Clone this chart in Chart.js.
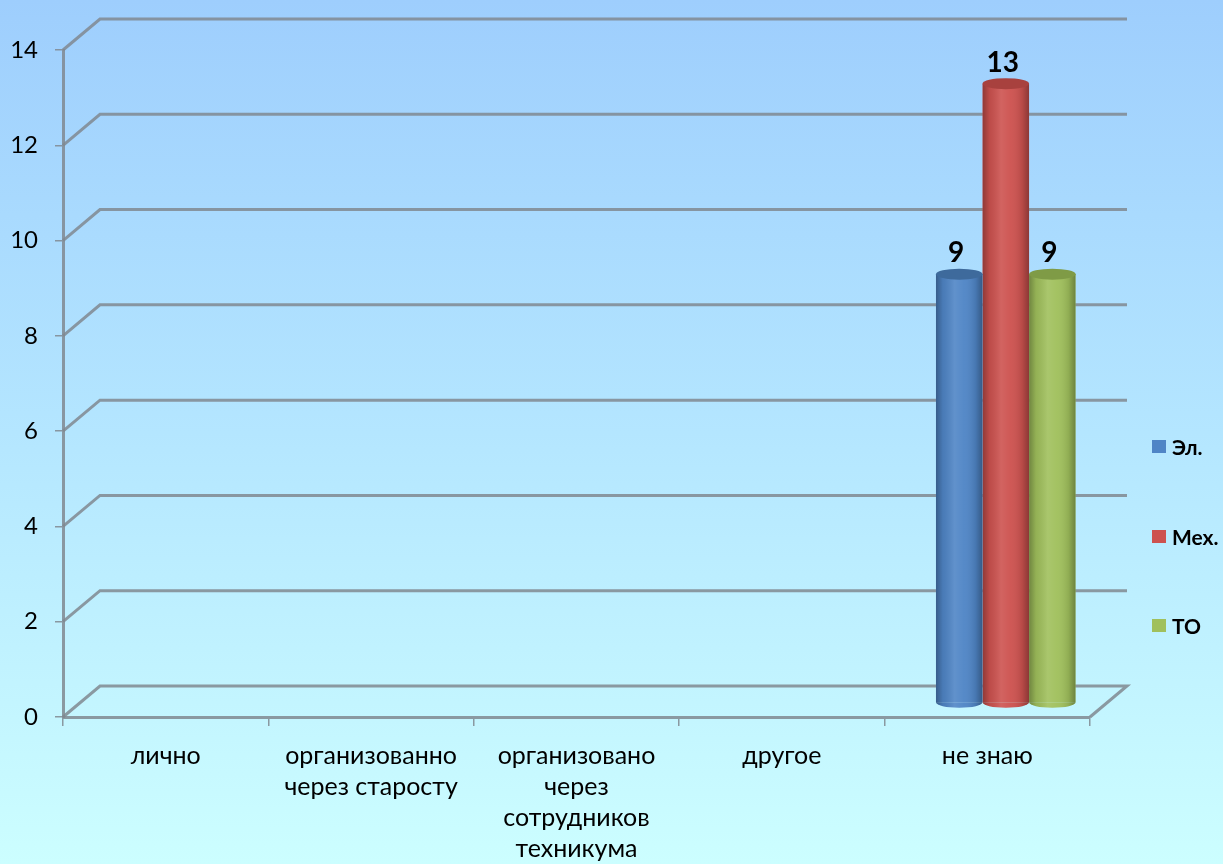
<!DOCTYPE html>
<html>
<head>
<meta charset="utf-8">
<script src="https://cdn.jsdelivr.net/npm/chart.js@4.4.1/dist/chart.umd.min.js"></script>
<style>
  html, body { margin: 0; padding: 0; }
  body { width: 1223px; height: 864px; overflow: hidden;
         background: linear-gradient(to bottom, #9ecefd 0%, #b4e6ff 50%, #ccfeff 100%); }
  #wrap { position: relative; width: 1223px; height: 864px; }
</style>
</head>
<body>
<div id="wrap"><canvas id="c" width="1223" height="864"></canvas></div>
<script>
// ---- data ----
const categories = [
  ['лично'],
  ['организованно', 'через старосту'],
  ['организовано', 'через', 'сотрудников', 'техникума'],
  ['другое'],
  ['не знаю']
];
const seriesNames = ['Эл.', 'Мех.', 'ТО'];
const elValues  = [0, 0, 0, 0, 9];
const mexValues = [0, 0, 0, 0, 13];
const toValues  = [0, 0, 0, 0, 9];
const yTicks = [0, 2, 4, 6, 8, 10, 12, 14];

// ---- styles ----
const colors    = ['#4f85c6', '#cd524f', '#a0c05c'];
const topColors = ['#3e6a9c', '#a8413e', '#7f9b46'];
const gridColor = 'rgba(128,136,144,0.85)';
const DX = 37, DY = -31;   // depth offset of back wall
const BAR_DX = 18.5, BAR_DY = -14;

const depthPlugin = {
  id: 'depth',
  beforeDatasetsDraw(chart) {
    const ctx = chart.ctx, ca = chart.chartArea, y = chart.scales.y;
    ctx.save();
    ctx.strokeStyle = gridColor;
    ctx.lineWidth = 3;
    ctx.lineJoin = 'miter';
    yTicks.forEach(v => {
      const yf = y.getPixelForValue(v);
      ctx.beginPath();
      ctx.moveTo(ca.left, yf);
      ctx.lineTo(ca.left + DX, yf + DY);
      ctx.lineTo(ca.right + DX, yf + DY);
      if (v === 0) ctx.lineTo(ca.right, yf);
      ctx.stroke();
    });
    ctx.restore();
    // shift bars to the middle of the depth
    ctx.save();
    ctx.translate(BAR_DX, BAR_DY);
  },
  afterDatasetsDraw(chart) {
    const ctx = chart.ctx;
    const RY = 5.5;
    chart.data.datasets.forEach((ds, di) => {
      const meta = chart.getDatasetMeta(di);
      meta.data.forEach((el, i) => {
        const v = ds.data[i];
        if (!v) return;
        const x = el.x, w = el.width, top = el.y, base = el.base;
        const l = x - w / 2, r = x + w / 2;
        // bottom rounded half
        ctx.save();
        ctx.beginPath();
        ctx.ellipse(x, base, w / 2, RY, 0, 0, Math.PI);
        ctx.fillStyle = colors[di];
        ctx.fill();
        // shading overlay on body
        ctx.beginPath();
        ctx.rect(l, top, w, base - top);
        ctx.ellipse(x, base, w / 2, RY, 0, 0, Math.PI);
        ctx.clip();
        const g = ctx.createLinearGradient(l, 0, r, 0);
        g.addColorStop(0, 'rgba(0,0,0,0.30)');
        g.addColorStop(0.15, 'rgba(0,0,0,0.08)');
        g.addColorStop(0.4, 'rgba(255,255,255,0.10)');
        g.addColorStop(0.6, 'rgba(255,255,255,0.04)');
        g.addColorStop(0.85, 'rgba(0,0,0,0.10)');
        g.addColorStop(1, 'rgba(0,0,0,0.32)');
        ctx.fillStyle = g;
        ctx.fillRect(l, top - 1, w, base - top + RY + 2);
        ctx.restore();
        // top ellipse
        ctx.save();
        ctx.beginPath();
        ctx.ellipse(x, top, w / 2, RY, 0, 0, Math.PI * 2);
        ctx.fillStyle = topColors[di];
        ctx.fill();
        ctx.restore();
        // value label
        ctx.save();
        ctx.fillStyle = '#000';
        ctx.font = 'bold 28px Lato';
        ctx.textAlign = 'center';
        ctx.textBaseline = 'alphabetic';
        ctx.fillText(String(v), x - 3, top - 12);
        ctx.restore();
      });
    });
    ctx.restore();
  },
  afterDraw(chart) {
    const ctx = chart.ctx;
    const ys = [447, 537, 626];
    ctx.save();
    seriesNames.forEach((name, i) => {
      ctx.fillStyle = colors[i];
      ctx.fillRect(1152, ys[i] - 7, 14, 13);
      ctx.fillStyle = '#000';
      ctx.font = 'bold 21px Lato';
      ctx.textAlign = 'left';
      ctx.textBaseline = 'middle';
      ctx.fillText(name, 1172, ys[i] + 1);
    });
    ctx.restore();
  }
};

new Chart(document.getElementById('c'), {
  type: 'bar',
  data: {
    labels: categories,
    datasets: [
      { label: seriesNames[0], data: elValues,  backgroundColor: colors[0] },
      { label: seriesNames[1], data: mexValues, backgroundColor: colors[1] },
      { label: seriesNames[2], data: toValues,  backgroundColor: colors[2] }
    ]
  },
  options: {
    responsive: false,
    animation: false,
    layout: { padding: { top: 50, right: 133, left: 0, bottom: 0 } },
    datasets: { bar: { barPercentage: 1.0, categoryPercentage: 0.68, borderWidth: 0 } },
    plugins: { legend: { display: false }, tooltip: { enabled: false } },
    scales: {
      x: {
        offset: true,
        afterFit(s) { s.height = 147; },
        grid: { offset: true, drawOnChartArea: false, drawTicks: true, tickLength: 9,
                color: gridColor, lineWidth: 1.5 },
        border: { display: true, color: gridColor, width: 3 },
        ticks: { autoSkip: false, maxRotation: 0, minRotation: 0, padding: 14, color: '#000',
                 font: { family: 'Lato', size: 25, lineHeight: 1.25 } }
      },
      y: {
        min: 0, max: 14,
        afterFit(s) { s.width = 63; },
        afterBuildTicks(s) { s.ticks = yTicks.map(v => ({ value: v })); },
        grid: { drawOnChartArea: false, drawTicks: true, tickLength: 8,
                color: gridColor, lineWidth: 1.5 },
        border: { display: true, color: gridColor, width: 3 },
        ticks: { padding: 17, color: '#000', font: { family: 'Lato', size: 24 } }
      }
    }
  },
  plugins: [depthPlugin]
});
</script>
</body>
</html>
